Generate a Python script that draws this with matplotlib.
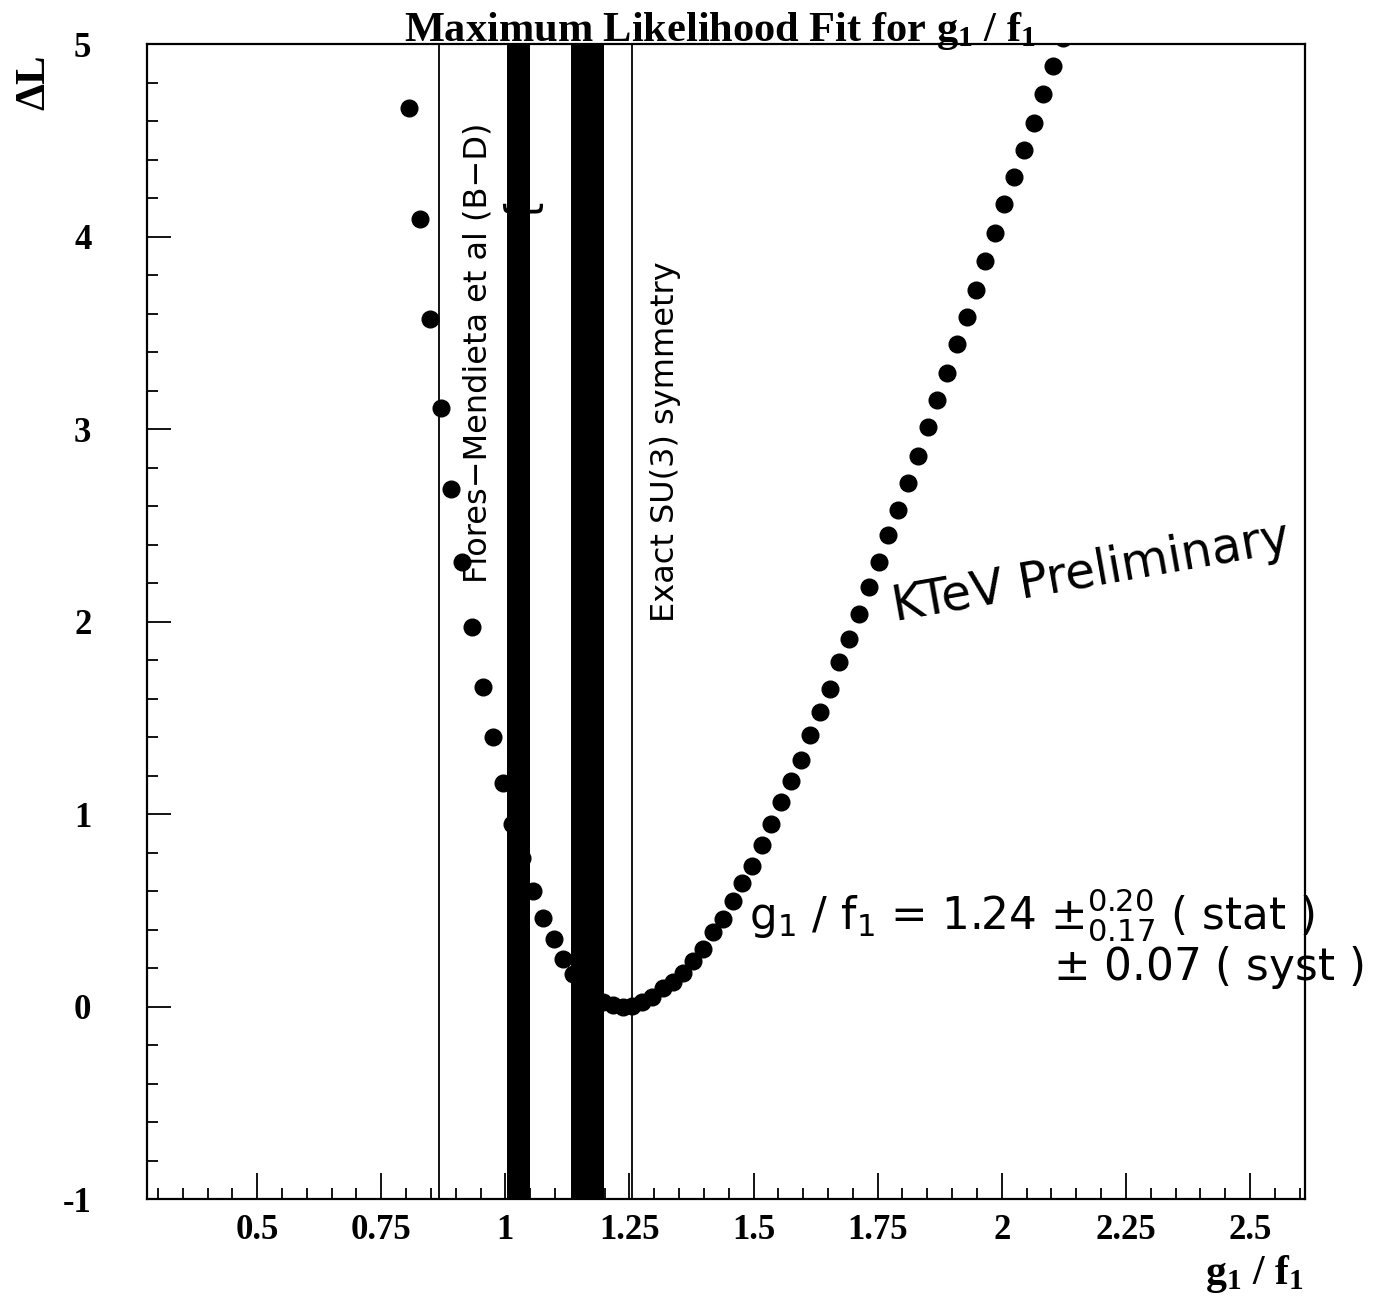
import matplotlib
matplotlib.use("Agg")
import matplotlib.pyplot as plt
from matplotlib.ticker import MultipleLocator, FixedLocator

plt.rcParams['mathtext.fontset'] = 'custom'
plt.rcParams['mathtext.rm'] = 'Liberation Serif:bold'
plt.rcParams['mathtext.it'] = 'Liberation Serif:bold'
plt.rcParams['mathtext.bf'] = 'Liberation Serif:bold'

# ---- data ----
g1f1 = [0.806, 0.828, 0.849, 0.870, 0.891, 0.912, 0.933, 0.954, 0.975, 0.995,
        1.014, 1.033, 1.055, 1.076, 1.097, 1.117, 1.136, 1.157, 1.177, 1.197,
        1.216, 1.236, 1.256, 1.276, 1.296, 1.317, 1.337, 1.358, 1.378, 1.399,
        1.418, 1.438, 1.458, 1.477, 1.497, 1.516, 1.536, 1.556, 1.575, 1.595,
        1.614, 1.633, 1.653, 1.672, 1.693, 1.712, 1.732, 1.752, 1.771, 1.791,
        1.811, 1.831, 1.851, 1.870, 1.889, 1.909, 1.929, 1.948, 1.967, 1.986,
        2.005, 2.025, 2.045, 2.065, 2.084, 2.104, 2.123]
delta_L = [4.67, 4.09, 3.57, 3.11, 2.69, 2.31, 1.97, 1.66, 1.40, 1.16,
           0.95, 0.77, 0.60, 0.46, 0.35, 0.245, 0.17, 0.11, 0.06, 0.025,
           0.006, 0.0, 0.005, 0.026, 0.052, 0.094, 0.13, 0.175, 0.235, 0.30,
           0.385, 0.455, 0.55, 0.64, 0.73, 0.84, 0.95, 1.06, 1.17, 1.28,
           1.41, 1.53, 1.65, 1.79, 1.91, 2.04, 2.18, 2.31, 2.45, 2.58,
           2.72, 2.86, 3.01, 3.15, 3.29, 3.44, 3.58, 3.72, 3.875, 4.02,
           4.17, 4.31, 4.45, 4.59, 4.74, 4.885, 5.03]

thin_lines = [0.867, 1.255]           # Flores-Mendieta, exact SU(3)
bands = [(1.004, 1.050), (1.132, 1.198)]

x_major = [0.5, 0.75, 1.0, 1.25, 1.5, 1.75, 2.0, 2.25, 2.5]
x_major_labels = ["0.5", "0.75", "1", "1.25", "1.5", "1.75", "2", "2.25", "2.5"]
y_major = [-1, 0, 1, 2, 3, 4, 5]
y_major_labels = ["-1", "0", "1", "2", "3", "4", "5"]

fig = plt.figure(figsize=(13.8, 13.06), dpi=100)
ax = fig.add_axes([0.1065, 0.0819, 0.8392, 0.8844])
ax.set_xlim(0.278, 2.611)
ax.set_ylim(-1, 5)

ax.plot(g1f1, delta_L, 'o', color='black', ms=12, zorder=2)

for xv in thin_lines:
    ax.axvline(xv, color='black', lw=1.3, zorder=3)
for lo, hi in bands:
    ax.axvspan(lo, hi, color='black', lw=0, zorder=3)

serif = 'Liberation Serif'
ax.xaxis.set_major_locator(FixedLocator(x_major))
ax.set_xticklabels(x_major_labels, fontfamily=serif, fontweight='bold', fontsize=25)
ax.xaxis.set_minor_locator(FixedLocator([0.3 + 0.05 * i for i in range(47)]))
ax.yaxis.set_major_locator(FixedLocator(y_major))
ax.set_yticklabels(y_major_labels, fontfamily=serif, fontweight='bold', fontsize=25)
ax.yaxis.set_minor_locator(MultipleLocator(0.2))
ax.tick_params(axis='x', which='major', direction='in', length=19, width=1.3, pad=11)
ax.tick_params(axis='x', which='minor', direction='in', length=8, width=1.3)
ax.tick_params(axis='y', which='major', direction='in', length=17, width=1.3, pad=40)
ax.tick_params(axis='y', which='minor', direction='in', length=8, width=1.3)
for s in ax.spines.values():
    s.set_linewidth(1.6)

# title, axis labels
ax.text(0.495, 1.003, r"Maximum Likelihood Fit for g$_1$ / f$_1$", transform=ax.transAxes,
        ha='center', va='baseline', fontfamily=serif, fontweight='bold', fontsize=30.5,
        math_fontfamily='custom')
fig.text(0.909, 0.017, r"g$_1$ / f$_1$", ha='center', va='baseline', fontfamily=serif,
         fontweight='bold', fontsize=30, math_fontfamily='custom')
fig.text(0.025, 0.937, "ΔL", ha='center', va='center', rotation=90, fontfamily=serif,
         fontweight='bold', fontsize=31)

sans = 'DejaVu Sans'
ax.text(0.944, 2.2, "Flores\u2212Mendieta et al (B\u2212D)", rotation=90, ha='center',
        va='bottom', fontfamily=sans, fontsize=23, zorder=1)
ax.text(1.029, 4.16, "{", rotation=90, ha='center', va='center', fontfamily=sans,
        fontsize=30, zorder=1)
ax.text(1.322, 2.0, "Exact SU(3) symmetry", rotation=90, ha='center', va='bottom',
        fontfamily=sans, fontsize=23)
ax.text(1.785, 2.0, "KTeV Preliminary", rotation=10, ha='left', va='baseline',
        fontfamily=sans, fontsize=35, rotation_mode='anchor')
ax.text(1.49, 0.40, r"g$_{\mathregular{1}}$ / f$_{\mathregular{1}}$ = 1.24 $\pm^{0.20}_{0.17}$ ( stat )",
        ha='left', va='baseline', fontfamily=sans, fontsize=31.5, math_fontfamily='dejavusans')
ax.text(2.104, 0.14, r"$\pm$ 0.07 ( syst )", ha='left', va='baseline', fontfamily=sans,
        fontsize=31.5, math_fontfamily='dejavusans')

fig.savefig("out.png", dpi=100)
